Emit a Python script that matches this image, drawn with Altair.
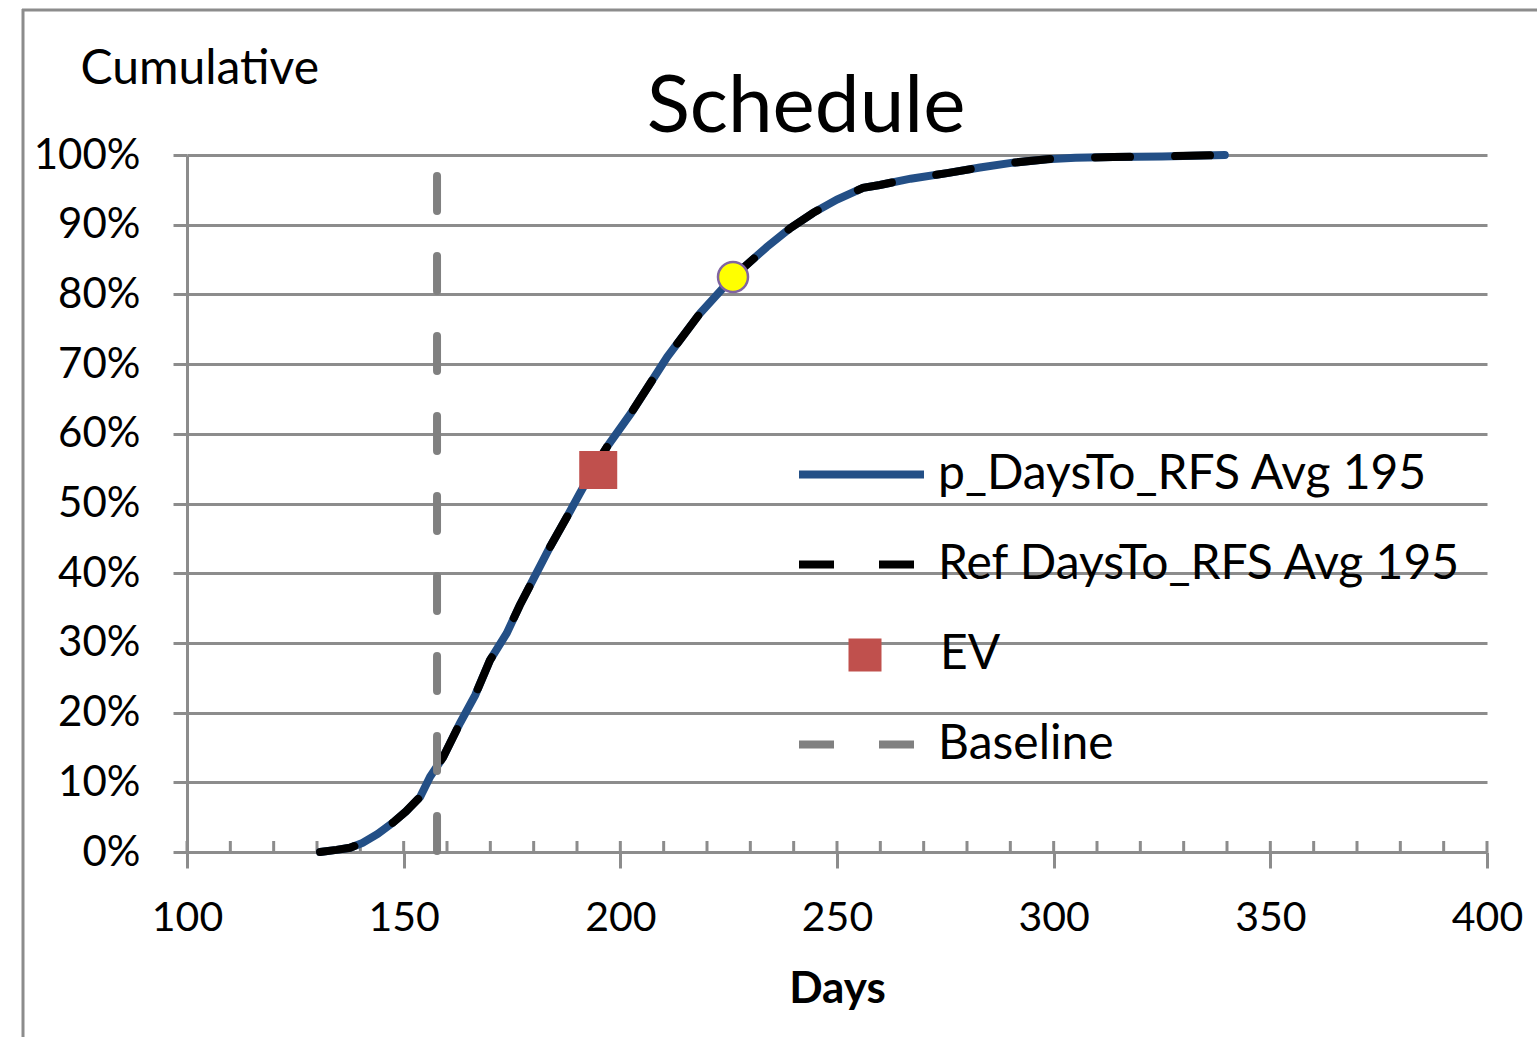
import altair as alt
import pandas as pd

# ---------------- data ----------------
P_NAME = "p_DaysTo_RFS Avg 195"
REF_NAME = "Ref DaysTo_RFS Avg 195"
EV_NAME = "EV"
BASE_NAME = "Baseline"

days = [130.7, 134.5, 137.6, 140.5, 144.0, 147.5, 150.5, 153.8, 156.1, 159.1,
        163.0, 166.5, 169.9, 173.8, 176.8, 179.8, 183.8, 187.7, 190.7, 194.6,
        196.9, 202.5, 210.8, 218.4, 226.0, 233.8, 239.2, 244.5, 250.0, 256.0,
        259.9, 267.0, 275.4, 283.0, 290.6, 298.5, 305.0, 313.7, 325.0, 339.5]
p_cum = [0.0, 0.3, 0.6, 1.3, 2.6, 4.2, 5.8, 7.9, 10.8, 13.6,
         18.5, 22.5, 27.5, 31.4, 35.4, 39.0, 43.8, 48.1, 51.5, 55.8,
         58.1, 63.0, 71.0, 77.3, 82.5, 86.8, 89.5, 91.7, 93.6, 95.3,
         95.7, 96.6, 97.4, 98.2, 98.9, 99.4, 99.6, 99.7, 99.8, 100.0]
ref_days = list(days)
ref_cum = list(p_cum)

ev_day = [194.9]
ev_cum = [54.8]
marker_day = [226.0]
marker_cum = [82.5]
baseline_day = [157.7]
baseline_top = [97.0]
baseline_bottom = [0.0]

x_major = [100, 150, 200, 250, 300, 350, 400]
x_minor = [100, 110, 120, 130, 140, 150, 160, 170, 180, 190, 200, 210, 220, 230,
           240, 250, 260, 270, 280, 290, 300, 310, 320, 330, 340, 350, 360, 370,
           380, 390, 400]
y_ticks = [0, 10, 20, 30, 40, 50, 60, 70, 80, 90, 100]

# ---------------- tables ----------------
df_p = pd.DataFrame({"day": days, "cum": [v / 100 for v in p_cum], "series": P_NAME})
df_ref = pd.DataFrame({"day": ref_days, "cum": [v / 100 for v in ref_cum], "series": REF_NAME})
df_ev = pd.DataFrame({"day": ev_day, "cum": [v / 100 for v in ev_cum], "series": EV_NAME})
df_mark = pd.DataFrame({"day": marker_day, "cum": [v / 100 for v in marker_cum]})
df_base = pd.DataFrame({"day": baseline_day, "cum": [v / 100 for v in baseline_top],
                        "bot": [v / 100 for v in baseline_bottom], "series": BASE_NAME})
df_minor = pd.DataFrame({"day": x_minor})

# ---------------- style ----------------
FONT = "Lato"
GRAY = "#8c8c8c"
BLUE = "#234f86"
BLACK = "#000000"
RED = "#c0504d"
BASEGRAY = "#808080"
DASH = [35, 45]
W, H = 1300, 697

x_scale = alt.Scale(domain=[100, 400], nice=False, zero=False)
y_scale = alt.Scale(domain=[0, 1], nice=False, zero=True)

x_axis = alt.Axis(values=x_major, grid=False, tickSize=16, tickWidth=3, tickColor=GRAY,
                  domainColor=GRAY, domainWidth=3, labelFont=FONT, labelFontSize=41,
                  labelColor="#000", labelPadding=30, labelFlush=False,
                  title="Days", titleFont=FONT, titleFontSize=44, titleFontWeight="bold",
                  titleColor="#000", titleBaseline="alphabetic", titleY=150)
y_axis = alt.Axis(values=[v / 100 for v in y_ticks], format="%", grid=True, gridColor=GRAY,
                  gridWidth=3, tickSize=14, tickWidth=3, tickColor=GRAY, domainColor=GRAY,
                  domainWidth=3, labelFont=FONT, labelFontSize=42, labelColor="#000",
                  labelPadding=33, labelFlush=False,
                  title="Cumulative", titleAngle=0, titleAlign="left",
                  titleBaseline="alphabetic", titleX=-107, titleY=-72, titleFont=FONT,
                  titleFontSize=48, titleFontWeight="normal", titleColor="#000")

X = alt.X("day:Q", scale=x_scale, axis=x_axis)
Y = alt.Y("cum:Q", scale=y_scale, axis=y_axis)


def legend(x, y, offset, **kw):
    return alt.Legend(orient="none", legendX=x, legendY=y, padding=0, title=None,
                      labelFont=FONT, labelFontSize=48, labelColor="#000", labelLimit=0,
                      labelOffset=offset, **kw)


minor = alt.Chart(df_minor).mark_rule(color=GRAY, strokeWidth=3).encode(
    x=X, y=alt.value(H - 11), y2=alt.value(H))

p_line = alt.Chart(df_p).mark_line(strokeWidth=8, strokeCap="round").encode(
    x=X, y=Y,
    color=alt.Color("series:N", scale=alt.Scale(domain=[P_NAME], range=[BLUE]),
                    legend=legend(608, 253, 10, symbolType="stroke", symbolSize=15625,
                                  symbolStrokeWidth=8)))

ref_line = alt.Chart(df_ref).mark_line(strokeWidth=8, strokeDash=DASH, strokeCap="round").encode(
    x=X, y=Y,
    color=alt.Color("series:N", scale=alt.Scale(domain=[REF_NAME], range=[BLACK]),
                    legend=legend(608, 343, 10, symbolType="stroke", symbolSize=15625,
                                  symbolStrokeWidth=8, symbolDash=DASH)))

base_rule = alt.Chart(df_base).mark_rule(strokeWidth=8, strokeDash=DASH, strokeCap="round").encode(
    x=X, y=Y, y2="bot:Q",
    color=alt.Color("series:N", scale=alt.Scale(domain=[BASE_NAME], range=[BASEGRAY]),
                    legend=legend(608, 523, 10, symbolType="stroke", symbolSize=15625,
                                  symbolStrokeWidth=8, symbolDash=DASH)))

ev_pt = alt.Chart(df_ev).mark_square(size=1444, opacity=1, filled=True).encode(
    x=X, y=Y,
    color=alt.Color("series:N", scale=alt.Scale(domain=[EV_NAME], range=[RED]),
                    legend=legend(654, 476, 51, symbolType="square", symbolSize=1089,
                                  symbolOpacity=1)))

marker = alt.Chart(df_mark).mark_point(shape="circle", size=900, filled=True, fill="#ffff00",
                                       stroke="#8064a2", strokeWidth=2.5, opacity=1).encode(x=X, y=Y)

frame_v = alt.Chart(alt.Data(values=[{"k": 1}])).mark_rule(color=GRAY, strokeWidth=3).encode(
    x=alt.value(-164), y=alt.value(-146), y2=alt.value(H + 200))
frame_h = alt.Chart(alt.Data(values=[{"k": 1}])).mark_rule(color=GRAY, strokeWidth=3).encode(
    x=alt.value(-165), x2=alt.value(W + 200), y=alt.value(-145))

chart = alt.layer(
    minor, p_line, ref_line, base_rule, ev_pt, marker, frame_v, frame_h
).resolve_scale(color="independent").properties(
    width=W, height=H,
    autosize=alt.AutoSizeParams(type="none"),
    padding={"left": 187, "top": 155, "right": 50, "bottom": 185},
    background="white",
    title=alt.TitleParams("Schedule", font=FONT, fontSize=80, fontWeight="normal",
                          color="#000", anchor="middle", frame="group", dx=-31,
                          offset=-204, baseline="alphabetic"),
).configure_view(stroke=None)

chart.save("out.html", embed_options={"renderer": "svg", "actions": False})
